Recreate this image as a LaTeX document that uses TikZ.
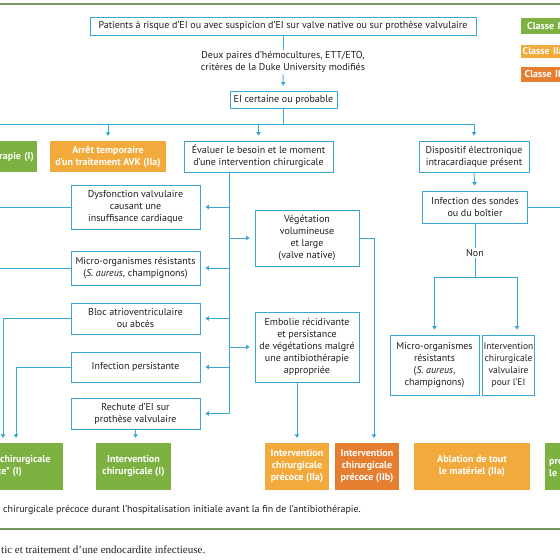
\documentclass[tikz,border=0pt]{standalone}
\usepackage{fontspec}
\setmainfont{PT Sans}
\newfontfamily\capfont{Liberation Serif}
\usetikzlibrary{arrows.meta}
\definecolor{lb}{RGB}{58,166,212}
\definecolor{gr}{RGB}{125,178,66}
\definecolor{og}{RGB}{242,170,60}
\definecolor{dog}{RGB}{230,126,50}
\definecolor{rule}{RGB}{120,152,98}
\definecolor{txt}{RGB}{35,31,32}
\tikzset{
  bx/.style={draw=lb, line width=0.9pt, fill=white, align=center, inner sep=1pt,
    font=\fontsize{10}{12}\selectfont, text=txt},
  cb/.style={fill=#1, text=white, align=center, inner sep=1pt,
    font=\bfseries\fontsize{10}{12}\selectfont},
  plain/.style={align=center, inner sep=1pt, font=\fontsize{10}{12}\selectfont, text=txt},
  ln/.style={draw=lb, line width=0.8pt},
  arr/.style={ln, -{Triangle[length=3.5pt,width=4.5pt]}, shorten >=5pt},
  sz/.style 2 args={minimum width=#1, minimum height=#2}
}
\begin{document}
\begin{tikzpicture}[x=1pt,y=-1pt]
\path[use as bounding box] (0,0) rectangle (560,560);
\clip (0,0) rectangle (560,560);
\fill[white] (0,0) rectangle (560,560);
% rules
\coordinate (rl) at (0,4);
\coordinate (rr) at (560,4);
\draw[rule, line width=1.3pt] (rl) -- (rr);
\coordinate (bl) at (0,529);
\coordinate (br) at (560,529);
\draw[rule, line width=1.3pt] (bl) -- (br);
% legend
\node[cb=gr, anchor=west, text width=68pt, align=left, inner xsep=6pt, minimum height=16pt] (c1) at (521,26) {Classe I};
\node[cb=og, anchor=west, text width=68pt, align=left, inner xsep=1.5pt, minimum height=13pt] (c2) at (521,51) {Classe IIa};
\node[cb=dog, anchor=west, text width=68pt, align=left, inner xsep=3.5pt, minimum height=15pt] (c3) at (521,74) {Classe IIb};
% top
\node[bx, sz={386pt}{18pt}] (pat) at (283,26) {Patients à risque d’EI ou avec suspicion d’EI sur valve native ou sur prothèse valvulaire};
\node[plain] (duke) at (283,62) {Deux paires d’hémocultures, ETT/ETO,\\critères de la Duke University modifiés};
\node[bx, sz={107pt}{17pt}] (ei) at (283.5,99.5) {EI certaine ou probable};
% second row
\node[cb=gr, sz={97pt}{31pt}, anchor=east, text width=91pt, align=right, inner xsep=3pt] (anti) at (37,156.5) {Antibiothérapie (I)};
\node[cb=og, sz={116pt}{31pt}] (avk) at (108,156.5) {Arrêt temporaire\\d’un traitement AVK (IIa)};
\node[bx, sz={149pt}{31pt}] (eval) at (258.5,156.5) {Évaluer le besoin et le moment\\d’une intervention chirurgicale};
\node[bx, sz={110pt}{31pt}] (disp) at (474,156.5) {Dispositif électronique\\intracardiaque présent};
\node[bx, sz={105pt}{32pt}] (infs) at (475,207) {Infection des sondes\\ou du boîtier};
\node[plain] (non) at (475,253) {Non};
% left column
\node[bx, sz={129pt}{44pt}] (dysf) at (135.5,207) {Dysfonction valvulaire\\causant une\\insuffisance cardiaque};
\node[bx, sz={129pt}{34pt}] (micro) at (135.5,268) {Micro-organismes résistants\\(\textit{S. aureus}, champignons)};
\node[bx, sz={129pt}{31pt}] (bloc) at (135.5,318.5) {Bloc atrioventriculaire\\ou abcès};
\node[bx, sz={129pt}{30pt}] (infp) at (135.5,367) {Infection persistante};
\node[bx, sz={129pt}{31pt}] (rech) at (135.5,413.5) {Rechute d’EI sur\\prothèse valvulaire};
% middle column
\node[bx, sz={104pt}{56pt}] (veg) at (307,238) {Végétation\\volumineuse\\et large\\(valve native)};
\node[bx, sz={104pt}{70pt}] (emb) at (307,347) {Embolie récidivante\\et persistance\\de végétations malgré\\une antibiothérapie\\appropriée};
% right column
\node[bx, sz={89pt}{60pt}] (mic2) at (434.5,365) {Micro-organismes\\résistants\\(\textit{S. aureus},\\champignons)};
\node[bx, sz={49pt}{60pt}, font=\fontsize{9.5}{12}\selectfont] (intv) at (508.5,365) {Intervention\\chirurgicale\\valvulaire\\pour l’EI};
% bottom row
\node[cb=gr, sz={130pt}{47pt}, anchor=east] (prec) at (63,466.5) {Intervention chirurgicale\\précoce* (I)};
\node[cb=gr, sz={75pt}{47pt}] (chir) at (133.5,466.5) {Intervention\\chirurgicale (I)};
\node[cb=og, sz={64pt}{47pt}] (iia) at (297,466.5) {Intervention\\chirurgicale\\précoce (IIa)};
\node[cb=dog, sz={64pt}{47pt}] (iib) at (367,466.5) {Intervention\\chirurgicale\\précoce (IIb)};
\node[cb=og, sz={116pt}{47pt}] (abl) at (472,466.5) {Ablation de tout\\le matériel (IIa)};
\node[cb=gr, sz={80pt}{47pt}, text width=72pt, align=left, inner xsep=4pt, anchor=west] (rgt) at (545,466.5) {prolongée\\le};
% texts
\node[plain, anchor=west] (fn) at (2,510) {chirurgicale précoce durant l’hospitalisation initiale avant la fin de l’antibiothérapie.};
\node[anchor=west, inner sep=1pt, text=txt, font=\capfont\fontsize{11}{12}\selectfont] (cap) at (0,550) {tic et traitement d’une endocardite infectieuse.};
% connectors
\coordinate (hl) at (0,124);
\coordinate (vx) at (229,0);
\coordinate (bx1) at (3,0);
\coordinate (bx2) at (16,0);
\coordinate (vgx) at (374,0);
\coordinate (ny) at (0,277);
\coordinate (nx) at (517,0);
\draw[ln] (pat.south) -- (duke.north);
\draw[arr] (duke.south) -- (ei.north);
\draw[ln] (ei.south) -- (ei.south |- hl);
\draw[arr] (hl) -| (disp.north);
\draw[arr] (avk.north |- hl) -- (avk.north);
\draw[arr] (eval.north |- hl) -- (eval.north);
\draw[arr] (disp.south) -- (infs.north);
\draw[ln] (infs.east) -- (infs.east -| rr);
\draw[ln] (infs.south) -- (non.north);
\draw[ln] (non.south) -- (non.south |- ny);
\draw[arr] (non.south |- ny) -| (mic2.north);
\draw[arr] (non.south |- ny) -| (nx |- intv.north);
% evaluation trunk
\draw[arr] (vx |- eval.south) |- (rech.east);
\draw[arr] (vx |- dysf) -- (dysf.east);
\draw[arr] (vx |- micro) -- (micro.east);
\draw[arr] (vx |- bloc) -- (bloc.east);
\draw[arr] (vx |- infp) -- (infp.east);
\draw[arr] (vx |- veg) -- (veg.west);
\draw[arr] (vx |- emb) -- (emb.west);
% left outputs
\draw[ln] (dysf.west) -- (dysf.west -| hl);
\draw[ln] (micro.west) -- (micro.west -| hl);
\draw[arr] (bloc.west) -| (bx1 |- prec.north);
\draw[arr] (infp.west) -| (bx2 |- prec.north);
\draw[arr] (rech.south) -- (rech.south |- chir.north);
% middle outputs
\draw[arr] (veg.east) -| (vgx |- iib.north);
\draw[arr] (emb.south -| iia.north) -- (iia.north);
\end{tikzpicture}
\end{document}
